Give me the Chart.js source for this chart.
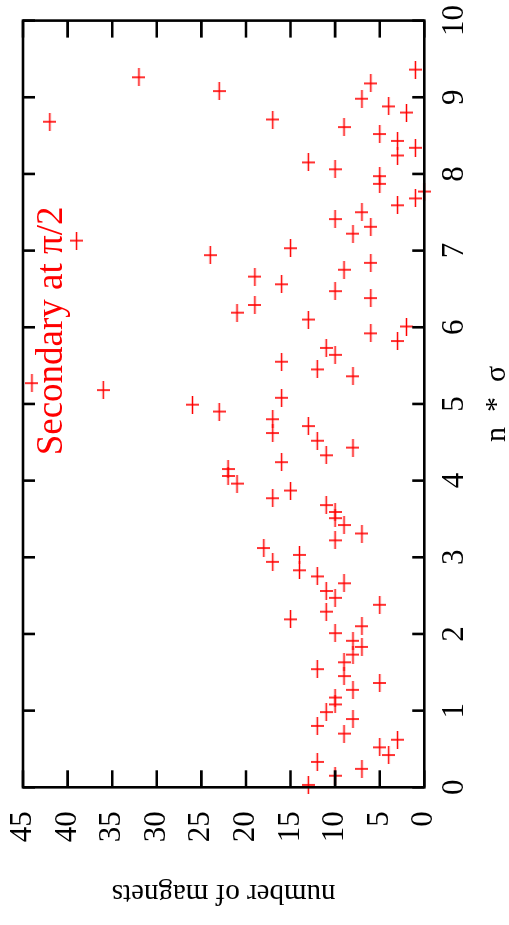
<!DOCTYPE html>
<html><head><meta charset="utf-8">
<script src="https://cdn.jsdelivr.net/npm/chart.js@4/dist/chart.umd.min.js"></script>
<style>
html,body{margin:0;padding:0;background:#fff;overflow:hidden;width:509px;height:925px;}
#wrap{position:absolute;left:0;top:0;width:925px;height:509px;transform-origin:0 0;transform:translate(0px,925px) rotate(-90deg);}
canvas{display:block;}
</style></head><body>
<div id="wrap"><canvas id="c" width="925" height="509"></canvas></div>
<script>
// n * sigma values (x) and number of magnets (y)
const nSigma = [9.36, 9.26, 9.18, 9.08, 8.98, 8.88, 8.80, 8.71, 8.68, 8.61,
  8.52, 8.43, 8.34, 8.24, 8.15, 8.06, 7.97, 7.87, 7.77, 7.68,
  7.59, 7.50, 7.41, 7.31, 7.22, 7.13, 7.03, 6.94, 6.84, 6.75,
  6.66, 6.56, 6.47, 6.38, 6.29, 6.19, 6.10, 6.01, 5.92, 5.82,
  5.73, 5.64, 5.55, 5.45, 5.36, 5.27, 5.18, 5.08, 4.99, 4.90,
  4.80, 4.71, 4.62, 4.52, 4.43, 4.33, 4.24, 4.15, 4.06, 3.96,
  3.87, 3.77, 3.68, 3.59, 3.51, 3.42, 3.31, 3.22, 3.12, 3.03,
  2.94, 2.83, 2.75, 2.66, 2.56, 2.47, 2.38, 2.29, 2.19, 2.10,
  2.01, 1.91, 1.83, 1.73, 1.63, 1.54, 1.45, 1.36, 1.27, 1.17,
  1.08, 0.98, 0.89, 0.80, 0.70, 0.62, 0.52, 0.42, 0.33, 0.24,
  0.15, 0.03];
const magnets = [1, 32, 6, 23, 7, 4, 2, 17, 42, 9,
  5, 3, 1, 3, 13, 10, 5, 5, 0, 1,
  3, 7, 10, 6, 8, 39, 15, 24, 6, 9,
  19, 16, 10, 6, 19, 21, 13, 2, 6, 3,
  11, 10, 16, 12, 8, 44, 36, 16, 26, 23,
  17, 13, 17, 12, 8, 11, 16, 22, 22, 21,
  15, 17, 11, 10, 10, 9, 7, 10, 18, 14,
  17, 14, 12, 9, 11, 10, 5, 11, 15, 7,
  10, 8, 7, 8, 9, 12, 9, 5, 8, 10,
  10, 11, 8, 12, 9, 3, 5, 4, 12, 7,
  10, 13];
const xTicks = [0, 1, 2, 3, 4, 5, 6, 7, 8, 9, 10];
const yTicks = [0, 5, 10, 15, 20, 25, 30, 35, 40, 45];
const xTitle = 'n\u2002*\u2002\u03c3';
const yTitle = 'number of magnets';
const labelText = 'Secondary at \u03c0/2';
const labelAt = {x: 4.33, y: 40.6};

const SERIF = '"Liberation Serif", "Times New Roman", serif';

// asymmetric red "+" marker
const cross = document.createElement('canvas');
cross.width = 18; cross.height = 13;
(function(){
  const g = cross.getContext('2d');
  g.strokeStyle = '#ff0000'; g.lineWidth = 1.6;
  g.beginPath();
  g.moveTo(0, 6.5); g.lineTo(18, 6.5);
  g.moveTo(9, 0); g.lineTo(9, 13);
  g.stroke();
})();

const framePlugin = {
  id: 'frame',
  afterDatasetsDraw(chart) {
    const {ctx, chartArea: a, scales: {x, y}} = chart;
    ctx.save();
    ctx.strokeStyle = '#000';
    ctx.lineWidth = 2.6;
    ctx.beginPath();
    xTicks.forEach(v => {
      const px = x.getPixelForValue(v);
      ctx.moveTo(px, a.bottom); ctx.lineTo(px, a.bottom - 12);
      ctx.moveTo(px, a.top); ctx.lineTo(px, a.top + 12);
    });
    yTicks.forEach(v => {
      const py = y.getPixelForValue(v);
      ctx.moveTo(a.left, py); ctx.lineTo(a.left + 17, py);
      ctx.moveTo(a.right, py); ctx.lineTo(a.right - 17, py);
    });
    ctx.stroke();
    ctx.strokeRect(a.left, a.top, a.right - a.left, a.bottom - a.top);
    // label
    ctx.fillStyle = '#ff0000';
    ctx.font = '37px ' + SERIF;
    ctx.textAlign = 'left';
    ctx.textBaseline = 'alphabetic';
    ctx.fillText(labelText, x.getPixelForValue(labelAt.x), y.getPixelForValue(labelAt.y));
    ctx.restore();
  }
};

new Chart(document.getElementById('c').getContext('2d'), {
  type: 'scatter',
  data: {
    datasets: [{
      data: nSigma.map((v, i) => ({x: v, y: magnets[i]})),
      pointStyle: cross,
      pointRadius: 9,
      pointHoverRadius: 9,
      borderColor: '#ff0000',
      backgroundColor: '#ff0000',
      clip: false
    }]
  },
  options: {
    responsive: false,
    animation: false,
    devicePixelRatio: 1,
    events: [],
    layout: {autoPadding: false, padding: {top: 23, right: 20.6, left: 0, bottom: 0}},
    plugins: {legend: {display: false}, tooltip: {enabled: false}},
    scales: {
      x: {
        type: 'linear', min: 0, max: 10,
        afterBuildTicks: s => { s.ticks = xTicks.map(v => ({value: v})); },
        afterFit: s => { s.height = 84.7; s.paddingLeft = 0; s.paddingRight = 0; },
        grid: {display: false, drawTicks: false},
        border: {display: false},
        ticks: {color: '#000', padding: 11.7, maxRotation: 0, autoSkip: false,
                font: {family: SERIF, size: 31}},
        title: {display: true, text: xTitle, color: '#000',
                font: {family: SERIF, size: 30, lineHeight: 0.8}, padding: {top: 0, bottom: 0}}
      },
      y: {
        type: 'linear', min: 0, max: 45,
        afterBuildTicks: s => { s.ticks = yTicks.map(v => ({value: v})); },
        afterFit: s => { s.width = 137.7; s.paddingTop = 0; s.paddingBottom = 0; },
        grid: {display: false, drawTicks: false},
        border: {display: false},
        ticks: {color: '#000', padding: 24, autoSkip: false,
                font: {family: SERIF, size: 31}},
        title: {display: true, text: yTitle, color: '#000',
                font: {family: SERIF, size: 29}, padding: {top: 14.8, bottom: 0}}
      }
    }
  },
  plugins: [framePlugin]
});
</script>
</body></html>
